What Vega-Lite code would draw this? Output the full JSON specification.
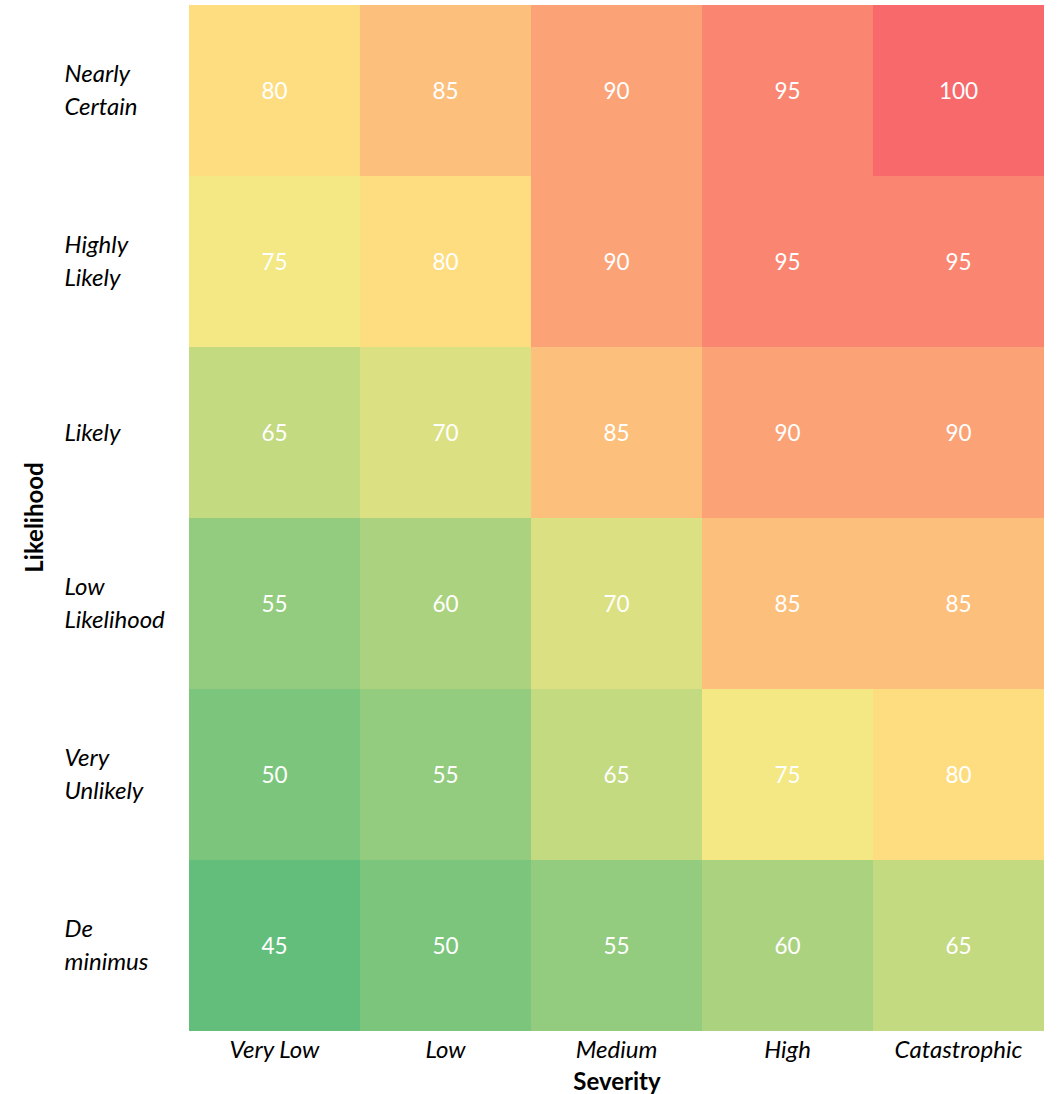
{
  "$schema": "https://vega.github.io/schema/vega-lite/v6.json",
  "autosize": {"type": "none"},
  "padding": {"left": 189, "top": 5, "right": 14, "bottom": 63},
  "width": 855,
  "height": 1026,
  "background": "white",
  "config": {"view": {"stroke": null}},
  "data": {"values": [
    {"likelihood": "Nearly Certain", "severity": "Very Low", "score": 80},
    {"likelihood": "Nearly Certain", "severity": "Low", "score": 85},
    {"likelihood": "Nearly Certain", "severity": "Medium", "score": 90},
    {"likelihood": "Nearly Certain", "severity": "High", "score": 95},
    {"likelihood": "Nearly Certain", "severity": "Catastrophic", "score": 100},
    {"likelihood": "Highly Likely", "severity": "Very Low", "score": 75},
    {"likelihood": "Highly Likely", "severity": "Low", "score": 80},
    {"likelihood": "Highly Likely", "severity": "Medium", "score": 90},
    {"likelihood": "Highly Likely", "severity": "High", "score": 95},
    {"likelihood": "Highly Likely", "severity": "Catastrophic", "score": 95},
    {"likelihood": "Likely", "severity": "Very Low", "score": 65},
    {"likelihood": "Likely", "severity": "Low", "score": 70},
    {"likelihood": "Likely", "severity": "Medium", "score": 85},
    {"likelihood": "Likely", "severity": "High", "score": 90},
    {"likelihood": "Likely", "severity": "Catastrophic", "score": 90},
    {"likelihood": "Low Likelihood", "severity": "Very Low", "score": 55},
    {"likelihood": "Low Likelihood", "severity": "Low", "score": 60},
    {"likelihood": "Low Likelihood", "severity": "Medium", "score": 70},
    {"likelihood": "Low Likelihood", "severity": "High", "score": 85},
    {"likelihood": "Low Likelihood", "severity": "Catastrophic", "score": 85},
    {"likelihood": "Very Unlikely", "severity": "Very Low", "score": 50},
    {"likelihood": "Very Unlikely", "severity": "Low", "score": 55},
    {"likelihood": "Very Unlikely", "severity": "Medium", "score": 65},
    {"likelihood": "Very Unlikely", "severity": "High", "score": 75},
    {"likelihood": "Very Unlikely", "severity": "Catastrophic", "score": 80},
    {"likelihood": "De minimus", "severity": "Very Low", "score": 45},
    {"likelihood": "De minimus", "severity": "Low", "score": 50},
    {"likelihood": "De minimus", "severity": "Medium", "score": 55},
    {"likelihood": "De minimus", "severity": "High", "score": 60},
    {"likelihood": "De minimus", "severity": "Catastrophic", "score": 65}
  ]},
  "encoding": {
    "x": {
      "field": "severity", "type": "nominal",
      "sort": ["Very Low", "Low", "Medium", "High", "Catastrophic"],
      "scale": {"paddingInner": 0, "paddingOuter": 0},
      "axis": {
        "title": "Severity", "titleFont": "Lato", "titleFontSize": 24, "titleFontWeight": "bold", "titleColor": "black",
        "titlePadding": 8,
        "labelFont": "Lato", "labelFontSize": 24, "labelFontStyle": "italic", "labelColor": "black",
        "labelAngle": 0, "labelPadding": 7, "ticks": false, "domain": false, "grid": false
      }
    },
    "y": {
      "field": "likelihood", "type": "nominal",
      "sort": ["Nearly Certain", "Highly Likely", "Likely", "Low Likelihood", "Very Unlikely", "De minimus"],
      "scale": {"paddingInner": 0, "paddingOuter": 0},
      "axis": {
        "title": "Likelihood", "titleFont": "Lato", "titleFontSize": 24, "titleFontWeight": "bold", "titleColor": "black",
        "titleX": -154, "titleY": 512, "titleAngle": -90, "titleAlign": "center", "titleBaseline": "middle",
        "labelFont": "Lato", "labelFontSize": 24, "labelFontStyle": "italic", "labelColor": "black",
        "labelExpr": "split(datum.label, ' ')", "labelAlign": "left", "labelPadding": 125, "labelLineHeight": 33,
        "labelBaseline": "middle",
        "labelOffset": {"condition": {"test": "datum.value == 'Likely'", "value": 1}, "value": -16},
        "ticks": false, "domain": false, "grid": false
      }
    }
  },
  "layer": [
    {
      "mark": {"type": "rect"},
      "encoding": {
        "color": {
          "field": "score", "type": "quantitative",
          "scale": {"domain": [45, 77.5, 100], "range": ["#63BE7B", "#FFEB84", "#F8696B"], "interpolate": "rgb"},
          "legend": null
        }
      }
    },
    {
      "mark": {"type": "text", "font": "Lato", "fontSize": 22.5, "color": "white", "dy": 1.5},
      "encoding": {"text": {"field": "score", "type": "quantitative"}}
    }
  ]
}
